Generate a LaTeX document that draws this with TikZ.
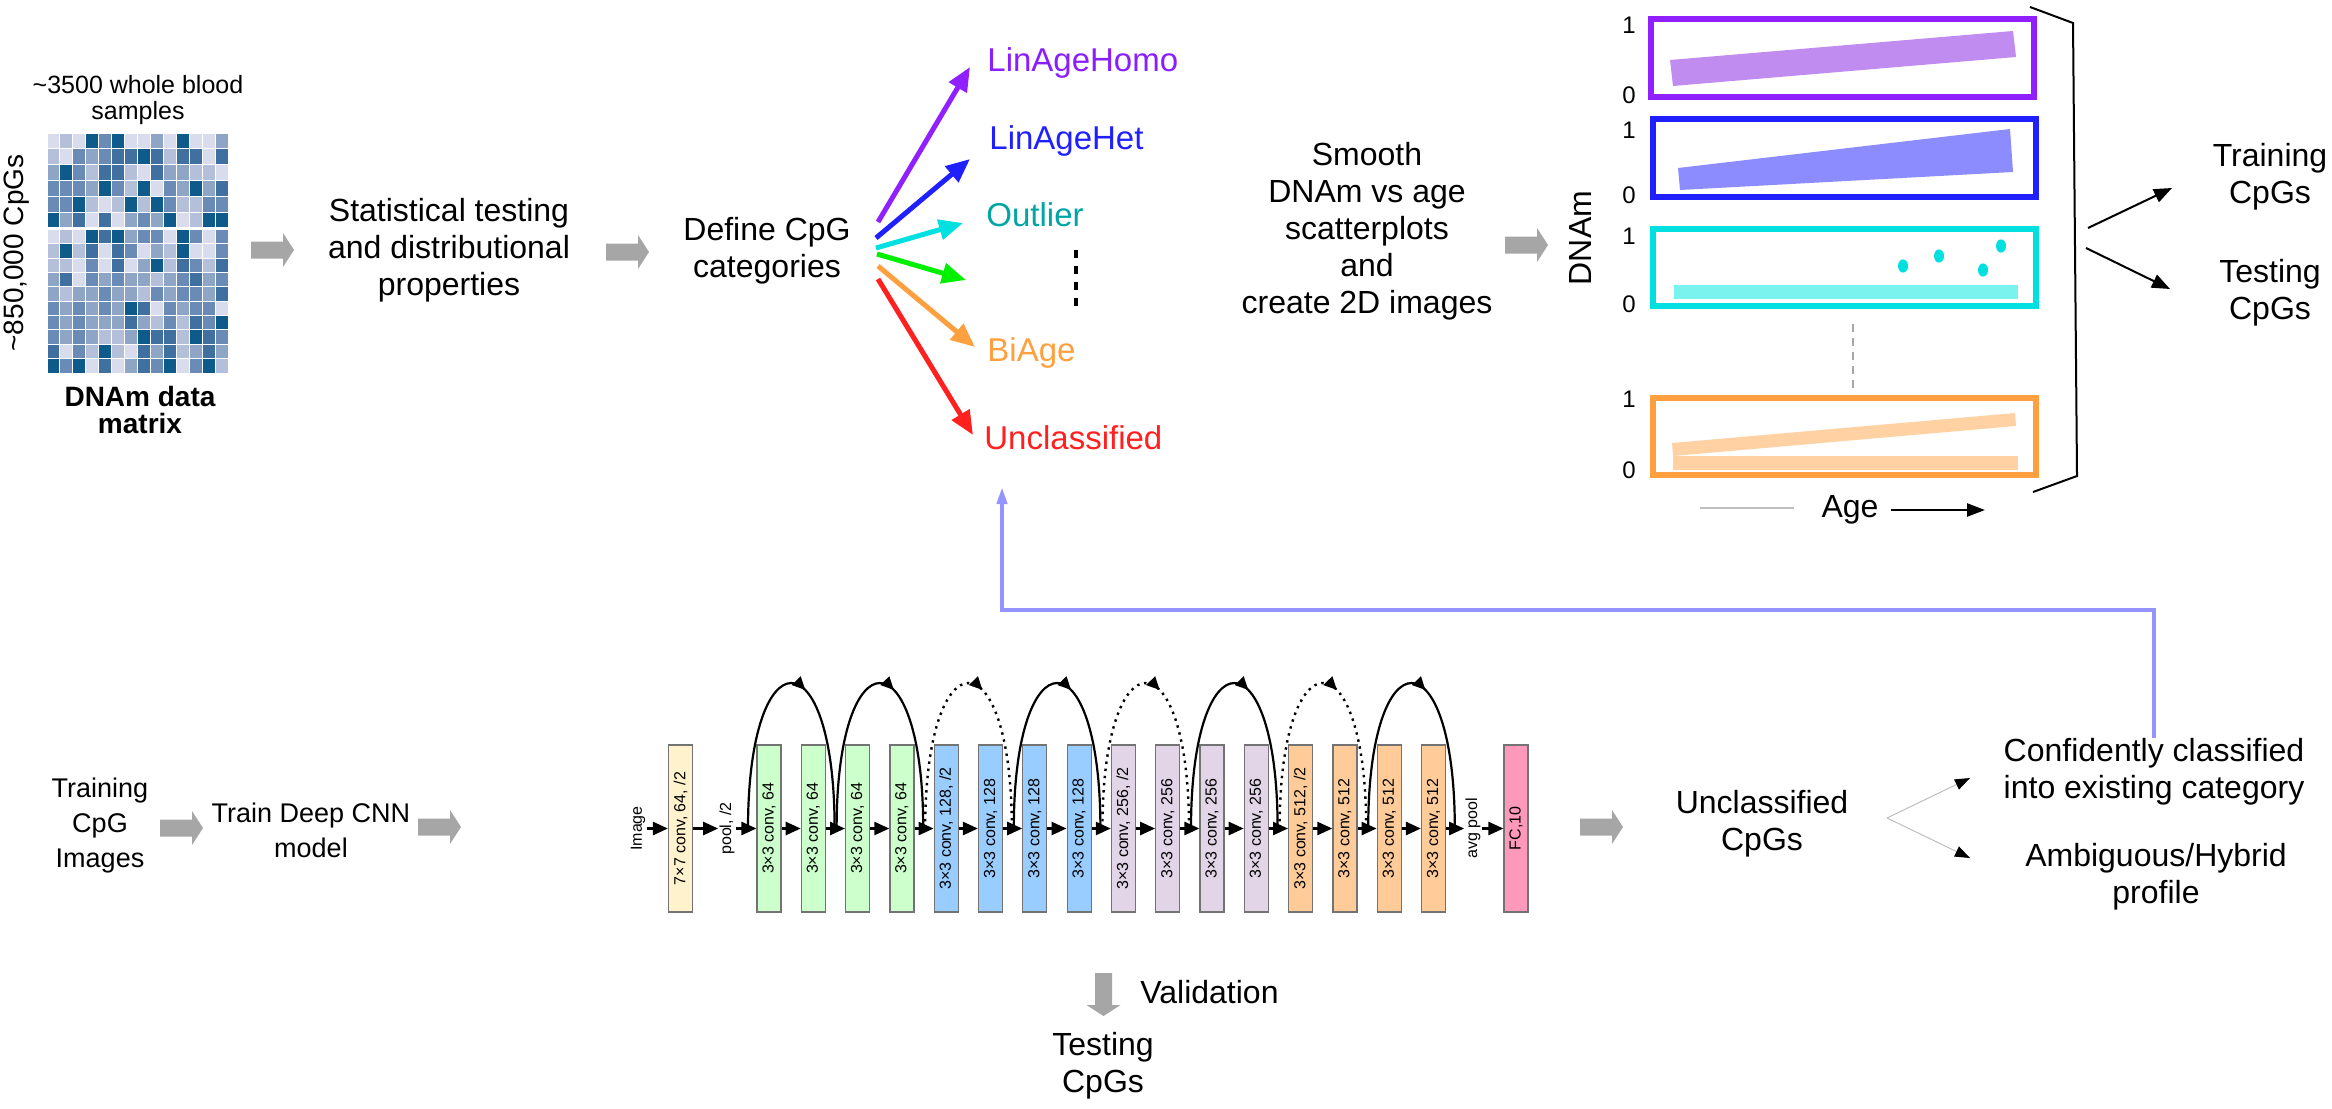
\documentclass[tikz,border=0pt]{standalone}
\usepackage{fontspec}
\setmainfont{Liberation Sans}
\usetikzlibrary{arrows.meta,decorations.markings}
\definecolor{agray}{HTML}{A6A6A6}
\definecolor{cpurple}{HTML}{9020FF}
\definecolor{tpurple}{HTML}{8B1EFF}
\definecolor{fpurple}{HTML}{C08CF0}
\definecolor{cblue}{HTML}{2020FF}
\definecolor{fblue}{HTML}{8C8CFF}
\definecolor{ccyan}{HTML}{00E0E0}
\definecolor{tcyan}{HTML}{00A6A6}
\definecolor{fcyan}{HTML}{7AF2EE}
\definecolor{cgreen}{HTML}{00F000}
\definecolor{corange}{HTML}{FFA040}
\definecolor{forange}{HTML}{FFD1A3}
\definecolor{cred}{HTML}{FF2020}
\definecolor{fbline}{HTML}{9494FF}
\definecolor{nyellow}{HTML}{FFF2CC}
\definecolor{ngreen}{HTML}{CCFFCC}
\definecolor{nblue}{HTML}{99CCFF}
\definecolor{nlav}{HTML}{E1D5E7}
\definecolor{norange}{HTML}{FFCC99}
\definecolor{npink}{HTML}{FF99BB}
\definecolor{hm1}{HTML}{D9DCEC}
\definecolor{hm2}{HTML}{B4C0DA}
\definecolor{hm3}{HTML}{8FA5C6}
\definecolor{hm4}{HTML}{6A8BB5}
\definecolor{hm5}{HTML}{40709F}
\definecolor{hm6}{HTML}{0E5A8A}
\tikzset{
  blockarr/.pic={\fill[agray] (0,-8.5) -- (32,-8.5) -- (32,-17) -- (43,0) -- (32,17) -- (32,8.5) -- (0,8.5) -- cycle;},
  txt/.style={align=center, inner sep=0pt, font=\fontsize{16}{18.5}\selectfont},
  txtb/.style={align=center, inner sep=0pt, font=\fontsize{13.5}{17.5}\selectfont},
  cat/.style={anchor=west, inner sep=0pt, font=\fontsize{16.5}{19}\selectfont},
  fan/.style={line width=2.5pt, -{Triangle[length=12pt,width=10pt]}},
  cnnbox/.style={draw=black!55, line width=0.6pt, minimum width=12pt, minimum height=83.5pt, inner sep=0pt, font=\fontsize{8}{9}\selectfont},
  cnnlbl/.style={inner sep=0.5pt, font=\fontsize{8}{9}\selectfont},
  cnnarr/.style={line width=1.3pt, -{Triangle[length=7.5pt,width=6.5pt]}},
  arcmark/.style={postaction={decorate}, decoration={markings, mark=at position 0.55 with {\arrow{Triangle[length=6.5pt,width=6pt]}}}},
  arcsolid/.style={line width=1.1pt, arcmark},
  arcdot/.style={line width=1.2pt, dash pattern=on 1.2pt off 2.4pt, arcmark},
  plotframe/.style={line width=3pt},
  blk/.style={line width=1pt, -{Triangle[length=9pt,width=7pt]}},
  thinarr/.style={draw=black!25, line width=0.5pt, -{Triangle[length=7.5pt,width=5.5pt,color=black]}},
  fb/.style={draw=fbline, line width=2pt, -{Triangle[length=8.5pt,width=5pt]}},
  axlbl/.style={inner sep=0pt, font=\fontsize{12}{14}\selectfont}
}
\begin{document}
\begin{tikzpicture}[x=0.5pt,y=-0.5pt]
\useasboundingbox (0,0) rectangle (2332,1108);
\fill[white] (0,0) rectangle (2332,1108);

% ---------------- heatmap ----------------
\foreach \rowlist [count=\r] in {
 {1,2,1,6,4,6,1,1,3,1,6,1,1,3},
 {2,1,4,3,4,5,5,6,5,2,5,5,1,5},
 {3,6,4,2,5,5,2,1,5,3,3,2,2,1},
 {4,4,4,3,6,4,2,6,1,4,3,6,3,5},
 {4,4,6,2,1,2,6,2,6,4,2,2,4,4},
 {6,3,5,1,5,1,3,4,3,6,1,2,6,6},
 {1,2,1,6,5,6,3,4,4,1,6,4,1,4},
 {2,6,2,5,1,5,4,1,3,2,6,1,1,4},
 {2,2,1,4,1,5,1,3,6,2,5,4,2,5},
 {3,5,1,4,3,4,3,3,2,3,4,5,3,4},
 {3,2,3,3,4,3,3,2,4,3,4,4,3,5},
 {4,3,4,3,4,3,6,5,1,4,3,4,4,1},
 {4,3,4,3,3,3,5,3,2,4,2,5,4,6},
 {4,3,4,3,2,2,3,6,5,5,2,6,5,4},
 {5,1,4,2,6,2,1,5,3,5,2,3,5,3},
 {6,4,6,1,5,1,3,5,4,6,1,4,6,2}}{
  \pgfmathsetmacro\ytop{(\r<7) ? (133+(\r-1)*15.83) : (229.5+(\r-7)*14.35)}
  \pgfmathsetmacro\hh{(\r<7) ? 15.83 : 14.35}
  \foreach \c [count=\k] in \rowlist {
    \pgfmathsetmacro\xl{47+(\k-1)*12.93}
    \path[fill=hm\c, draw=white, line width=0.5pt] (\xl,\ytop) rectangle ++(12.93,\hh);
  }
}
\node[align=center, inner sep=0pt, font=\fontsize{12.5}{13}\selectfont] (samples) at (138,100) {\textasciitilde 3500 whole blood\\samples};
\node[inner sep=0pt, font=\fontsize{14}{16}\selectfont] (cpgs) at (17,253) {\rotatebox{90}{\textasciitilde 850,000 CpGs}};
\node[align=center, inner sep=0pt, font=\fontsize{14}{13.5}\selectfont\bfseries] (dnamlbl) at (140,410) {DNAm data\\matrix};

% ---------------- top flow ----------------
\pic at (251,250) {blockarr};
\node[txt] (stats) at (449,250) {Statistical testing\\and distributional\\properties};
\pic at (606,252) {blockarr};
\node[txt] (define) at (767,251) {Define CpG\\categories};

\coordinate (s1) at (878,222); \coordinate (t1) at (970,67);
\coordinate (s2) at (876,238); \coordinate (t2) at (970,159);
\coordinate (s3) at (876,248); \coordinate (t3) at (963,223);
\coordinate (s4) at (877,254); \coordinate (t4) at (966,280);
\coordinate (s5) at (878,266); \coordinate (t5) at (975,347);
\coordinate (s6) at (878,279); \coordinate (t6) at (973,435);
\draw[fan, cpurple] (s1) -- (t1);
\draw[fan, cblue] (s2) -- (t2);
\draw[fan, ccyan] (s3) -- (t3);
\draw[fan, cgreen] (s4) -- (t4);
\draw[fan, corange] (s5) -- (t5);
\draw[fan, cred] (s6) -- (t6);
\node[cat, text=tpurple] (homo) at (987,63) {LinAgeHomo};
\node[cat, text=cblue] (het) at (989,141) {LinAgeHet};
\node[cat, text=tcyan] (outl) at (986,215) {Outlier};
\node[cat, text=corange] (biage) at (987,353) {BiAge};
\node[cat, text=cred] (uncl) at (984,438) {Unclassified};
\draw[line width=2pt, dash pattern=on 4pt off 4pt] (1076,250) -- (1076,308);

\node[txt] (smooth) at (1367,231) {Smooth\\DNAm vs age\\scatterplots\\and\\create 2D images};
\pic at (1505,245) {blockarr};
\node[txt] (dnam) at (1580,238) {\rotatebox{90}{DNAm}};

% ---------------- plots ----------------
\fill[fpurple] (1670,60) -- (2013,31) -- (2016,57) -- (1673,86) -- cycle;
\fill[fblue] (1678,168) -- (2010,129) -- (2013,172) -- (1680,190) -- cycle;
\fill[fcyan] (1674,285) rectangle (2018,299);
\fill[ccyan] (1903,266) ellipse [x radius=2.5pt, y radius=3.3pt];
\fill[ccyan] (1939,256) ellipse [x radius=2.5pt, y radius=3.3pt];
\fill[ccyan] (1983,270) ellipse [x radius=2.5pt, y radius=3.3pt];
\fill[ccyan] (2001,246) ellipse [x radius=2.5pt, y radius=3.3pt];
\fill[forange] (1672,443) -- (2015,413) -- (2016,426) -- (1673,456) -- cycle;
\fill[forange] (1673,456) rectangle (2018,470);
\draw[plotframe, cpurple] (1651,19) rectangle (2034,97);
\draw[plotframe, cblue] (1653,119) rectangle (2036,197);
\draw[plotframe, ccyan] (1653,229) rectangle (2036,306);
\draw[plotframe, corange] (1653,398) rectangle (2036,475);
\foreach \yy/\tt in {25/1,95/0,130/1,195/0,236/1,304/0,399/1,470/0}
  \node[axlbl] at (1629,\yy) {\tt};
\draw[black!35, line width=0.6pt, dash pattern=on 4pt off 3pt] (1853,324) -- (1853,392);
\node[txt] (age) at (1850,510) {Age};
\coordinate (ag1) at (1700,508); \coordinate (ag2) at (1794,508);
\coordinate (ag3) at (1891,510); \coordinate (ag4) at (1985,510);
\draw[black!25, line width=0.6pt] (ag1) -- (ag2);
\draw[line width=1.2pt, -{Triangle[length=9pt,width=6.5pt]}] (ag3) -- (ag4);
\draw[line width=1pt] (2030,7) -- (2073,23) -- (2077,476) -- (2033,492);
\coordinate (trs) at (2088,228); \coordinate (tre) at (2172,188);
\coordinate (tes) at (2086,248); \coordinate (tee) at (2170,289);
\draw[blk] (trs) -- (tre);
\draw[blk] (tes) -- (tee);
\node[txt] (trcpg) at (2270,177) {Training\\CpGs};
\node[txt] (tecpg) at (2270,293) {Testing\\CpGs};

% ---------------- bottom flow ----------------
\node[txtb] (trimg) at (100,826) {Training\\CpG\\Images};
\pic at (160,828) {blockarr};
\node[txtb] (train) at (311,830) {Train Deep CNN\\model};
\pic at (418,827) {blockarr};

\node[cnnlbl] (img) at (638,828.5) {\rotatebox{90}{Image}};
\node[cnnbox, fill=nyellow] (c7) at (680.5,828.5) {\rotatebox{90}{7×7 conv, 64, /2}};
\node[cnnlbl] (pool) at (727,828.5) {\rotatebox{90}{pool, /2}};
\foreach \i/\col/\lab in {
  0/ngreen/{3×3 conv, 64}, 1/ngreen/{3×3 conv, 64}, 2/ngreen/{3×3 conv, 64}, 3/ngreen/{3×3 conv, 64},
  4/nblue/{3×3 conv, 128, /2}, 5/nblue/{3×3 conv, 128}, 6/nblue/{3×3 conv, 128}, 7/nblue/{3×3 conv, 128},
  8/nlav/{3×3 conv, 256, /2}, 9/nlav/{3×3 conv, 256}, 10/nlav/{3×3 conv, 256}, 11/nlav/{3×3 conv, 256},
  12/norange/{3×3 conv, 512, /2}, 13/norange/{3×3 conv, 512}, 14/norange/{3×3 conv, 512}, 15/norange/{3×3 conv, 512}}{
  \pgfmathsetmacro\cx{769+44.3*\i}
  \node[cnnbox, fill=\col] (b\i) at (\cx,828.5) {\rotatebox{90}{\lab}};
}
\node[cnnlbl] (avg) at (1473,828.5) {\rotatebox{90}{avg pool}};
\node[cnnbox, fill=npink] (fc) at (1516,828.5) {\rotatebox{90}{FC,10}};
\draw[cnnarr] (img) -- (c7);
\draw[cnnarr] (c7) -- (pool);
\draw[cnnarr] (pool) -- (b0);
\foreach \i [evaluate=\i as \j using int(\i+1)] in {0,...,14}
  \draw[cnnarr] (b\i) -- (b\j);
\draw[cnnarr] (b15) -- (avg);
\draw[cnnarr] (avg) -- (fc);
\foreach \k/\sty in {0/arcsolid,1/arcsolid,2/arcdot,3/arcsolid,4/arcdot,5/arcsolid,6/arcdot,7/arcsolid}{
  \pgfmathsetmacro\sx{748+88.6*\k}
  \pgfmathsetmacro\ex{834.6+88.6*\k}
  \coordinate (as\k) at (\sx,828.5);
  \coordinate (ae\k) at (\ex,828.5);
  \draw[\sty] (as\k) .. controls +(0,-194) and +(0,-194) .. (ae\k);
}

\pic[rotate=-90] at (1103.5,973) {blockarr};
\node[txt, anchor=west] (valid) at (1140,992) {Validation};
\node[txt] (testcpg) at (1103,1066) {Testing\\CpGs};

\pic at (1580,827) {blockarr};
\node[txt] (unc) at (1762,824) {Unclassified\\CpGs};
\coordinate (usplit) at (1887,818);
\coordinate (uc1) at (1970,778);
\coordinate (uc2) at (1970,858);
\draw[thinarr] (usplit) -- (uc1);
\draw[thinarr] (usplit) -- (uc2);
\node[txt] (conf) at (2154,772) {Confidently classified\\into existing category};
\node[txt] (amb) at (2156,877) {Ambiguous/Hybrid\\profile};
\coordinate (fbc) at (1002,610);
\coordinate (fbt) at (1002,487);
\draw[fb] (conf.north) |- (fbc) -- (fbt);
\end{tikzpicture}
\end{document}
